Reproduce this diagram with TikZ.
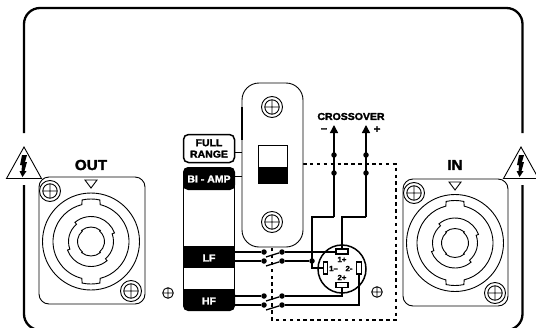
\documentclass[tikz,border=0pt]{standalone}
\usepackage{fontspec}
\setmainfont{Liberation Sans}[BoldFeatures={FakeStretch=1.05,FakeBold=2}]
\usetikzlibrary{arrows.meta}
\tikzset{
  thinl/.style={line width=0.9pt,black},
  frameline/.style={line width=2.3pt,black,rounded corners=16pt},
  wire/.style={line width=1.3pt,black},
  feed/.style={line width=1.5pt,black},
  dashline/.style={line width=1.8pt,black,dash pattern=on 3.5pt off 3.4pt},
  dot/.style={circle,fill=black,inner sep=0pt,minimum size=5.5pt},
  txt/.style={font=\bfseries\fontsize{10}{10}\selectfont,inner sep=0pt,align=center},
  big/.style={font=\bfseries\fontsize{14.5}{14.5}\selectfont,inner sep=0pt},
  sign/.style={font=\bfseries\fontsize{11}{11}\selectfont,inner sep=0pt},
  pinl/.style={font=\bfseries\fontsize{7.5}{7.5}\selectfont,inner sep=0pt},
  wtxt/.style={txt,text=white},
  pin/.style={draw=black,fill=white,line width=1.4pt,inner sep=0pt},
}
\newcommand{\screwb}[2]{%
  \draw[thinl] (#1,#2) circle[radius=10.5] circle[radius=7.2]
    (#1-7.2,#2)--(#1+7.2,#2) (#1,#2-7.2)--(#1,#2+7.2);}
\newcommand{\screws}[2]{%
  \draw[thinl] (#1,#2) circle[radius=5.3] (#1-5.3,#2)--(#1+5.3,#2) (#1,#2-5.3)--(#1,#2+5.3);}
\newcommand{\bolttri}[1]{%
  \begin{scope}[xshift=#1pt]
  \draw[thinl,line join=miter,fill=white] (24,147)--(41.5,178.5)--(6.5,178.5)--cycle;
  \fill[black] (22,155)--(27,155)--(25,162)--(27,162)--(24.5,171)--(26.5,171)--(22.5,177)--(19.5,171)--(21.5,171)--(22,165)--(20,165)--cycle;
  \end{scope}}
\newcommand{\spk}[2]{%
  \begin{scope}[shift={(#1,#2)}]
  \draw[thinl] (0,0) circle[radius=48.5];
  \draw[thinl] (76:38) -- (78:42.5) arc[start angle=78,end angle=102,radius=42.5] -- (104:38)
     arc[start angle=104,end angle=256,radius=38] -- (258:42.5)
     arc[start angle=258,end angle=282,radius=42.5] -- (284:38)
     arc[start angle=284,end angle=436,radius=38] -- cycle;
  \draw[thinl] (50:25) arc[start angle=50,end angle=160,radius=25] -- (160:22.5)
     arc[start angle=160,end angle=230,radius=22.5] -- (230:25)
     arc[start angle=230,end angle=340,radius=25] -- (340:22.5)
     arc[start angle=340,end angle=410,radius=22.5] -- cycle;
  \draw[thinl] (50:14.5) arc[start angle=50,end angle=130,radius=14.5] -- (130:13.5)
     arc[start angle=130,end angle=230,radius=13.5] -- (230:14.5)
     arc[start angle=230,end angle=310,radius=14.5] -- (310:13.5)
     arc[start angle=310,end angle=410,radius=13.5] -- cycle;
  \end{scope}}
\begin{document}
\begin{tikzpicture}[x=1pt,y=-1pt]
\clip (0,0) rectangle (536,327);
\fill[white] (0,0) rectangle (536,327);
% frame
\draw[frameline] (24,133)--(24,8)--(522.5,8)--(522.5,133);
\draw[frameline] (24,185)--(24,330)--(60,330);
\draw[frameline] (522.5,185)--(522.5,330)--(490,330);
\bolttri{0}
\bolttri{497}
% connectors
\draw[thinl,rounded corners=10pt] (39,177) rectangle (145,304);
\draw[thinl,rounded corners=10pt] (403,179) rectangle (508,306);
\draw[thinl] (85,180)--(97,180)--(91,188)--cycle;
\draw[thinl] (449,182)--(461,182)--(455,190)--cycle;
\spk{91}{241.5}
\spk{455}{243}
\screwb{50}{191}
\screwb{131}{291}
\screwb{414}{193}
\screwb{495}{293}
\screws{168}{293}
\screws{377}{292}
\node[big] (out) at (91,165) {OUT};
\node[big] (in) at (455,165) {IN};
% dashed box
\coordinate (d0) at (303,164);
\coordinate (d1) at (396,164);
\coordinate (d2) at (396,320);
\coordinate (d3) at (272,320);
\coordinate (d4) at (272,248);
\draw[dashline] (d0)--(d1)--(d2)--(d3)--(d4);
% plate
\node[draw=black,line width=0.9pt,rounded corners=17pt,minimum width=61pt,minimum height=164pt,inner sep=0pt,fill=white] (plate) at (272.5,165) {};
\draw[line width=1.6pt] (242,107)--(242,140);
\screwb{272}{107}
\screwb{272}{222}
\draw[thinl] (258,145) rectangle (287,183);
\fill[black] (258,167) rectangle (287,183);
% selector column
\node[draw=black,line width=1.5pt,rounded corners=5pt,minimum width=51pt,minimum height=28pt,inner sep=0pt,txt] (fr) at (209,148.5) {FULL\\[1.4pt]RANGE};
\coordinate (t1) at (242,152);
\coordinate (t2) at (242,176);
\draw[thinl,line width=1pt] (fr.east|-t1)--(t1);
\fill[black,rounded corners=5pt] (183,190)--(183,167)--(235,167)--(235,190)--cycle;
\fill[black] (183,246) rectangle (235,268);
\fill[black,rounded corners=5pt] (183,289)--(235,289)--(235,311)--(183,311)--cycle;
\fill[black] (183,289) rectangle (235,300);
\draw[line width=1.5pt] (183.7,185)--(183.7,295) (234.3,185)--(234.3,295);
\draw[thinl,line width=1pt] (234,176)--(t2);
\node[wtxt] (bi) at (209,179) {BI - AMP};
\node[wtxt] (lf) at (209,258) {LF};
\node[wtxt] (hf) at (209,301) {HF};
% crossover
\node[txt] (cr) at (351,116.5) {CROSSOVER};
\node[sign] (mn) at (324,130) {–};
\node[sign] (pl) at (377,129.5) {+};
% round socket
\node[draw=black,circle,line width=1.5pt,minimum size=48pt,inner sep=0pt] (sock) at (342,269) {};
\node[pin,minimum width=12pt,minimum height=5pt] (p1p) at (342,251.5) {};
\node[pin,minimum width=12pt,minimum height=5pt] (p2p) at (342,285) {};
\node[pin,minimum width=4.5pt,minimum height=12pt] (p1m) at (325.5,268) {};
\node[pin,minimum width=4.5pt,minimum height=12pt] (p2m) at (359,268) {};
\node[pinl] (l1p) at (342,259.5) {1+};
\node[pinl] (l2p) at (342,277.5) {2+};
\node[pinl] (l1m) at (333.5,268.5) {1–};
\node[pinl] (l2m) at (349,268.5) {2-};
% feeds
\coordinate (a1) at (334,125);
\coordinate (a2) at (366,125);
\node[dot] (a1u) at (334,155) {};
\node[dot] (a1l) at (334,173) {};
\node[dot] (a2u) at (366,155) {};
\node[dot] (a2l) at (366,173) {};
\coordinate (b1) at (334,217);
\coordinate (b2) at (366,217);
\coordinate (c1) at (312,217);
\coordinate (c2) at (342,217);
\coordinate (e1) at (312,268);
\node[dot] (j) at (312,261) {};
\draw[feed,-{Triangle[length=8pt,width=8pt]}] (b1)--(a1);
\draw[feed,-{Triangle[length=8pt,width=8pt]}] (b2)--(a2);
\draw[feed] (b1)--(c1)--(e1)--(p1m.west|-e1);
\draw[feed] (b2)--(c2)--(p1p.north);
% switch wires
\coordinate (w1) at (234,252);
\coordinate (w2) at (234,261);
\coordinate (w3) at (234,296);
\coordinate (w4) at (234,305);
\node[dot] (s1l) at (264,252) {};
\node[dot] (s1r) at (282,252) {};
\node[dot] (s2l) at (264,261) {};
\node[dot] (s2r) at (282,261) {};
\node[dot] (s3l) at (264,296) {};
\node[dot] (s3r) at (282,296) {};
\node[dot] (s4l) at (264,305) {};
\node[dot] (s4r) at (282,305) {};
\draw[wire] (w1)--(s1l) (w2)--(s2l) (w3)--(s3l) (w4)--(s4l);
\draw[wire] (266,257)--(s1r) (266,266)--(s2r) (266,301)--(s3r) (266,310)--(s4r);
\draw[wire] (s1r)--(p1p.west|-s1r);
\draw[wire] (s2r)--(j);
\draw[wire] (s3r)--(342,296)--(p2p.south);
\draw[wire] (s4r)--(359,305)--(p2m.south);
\end{tikzpicture}
\end{document}
